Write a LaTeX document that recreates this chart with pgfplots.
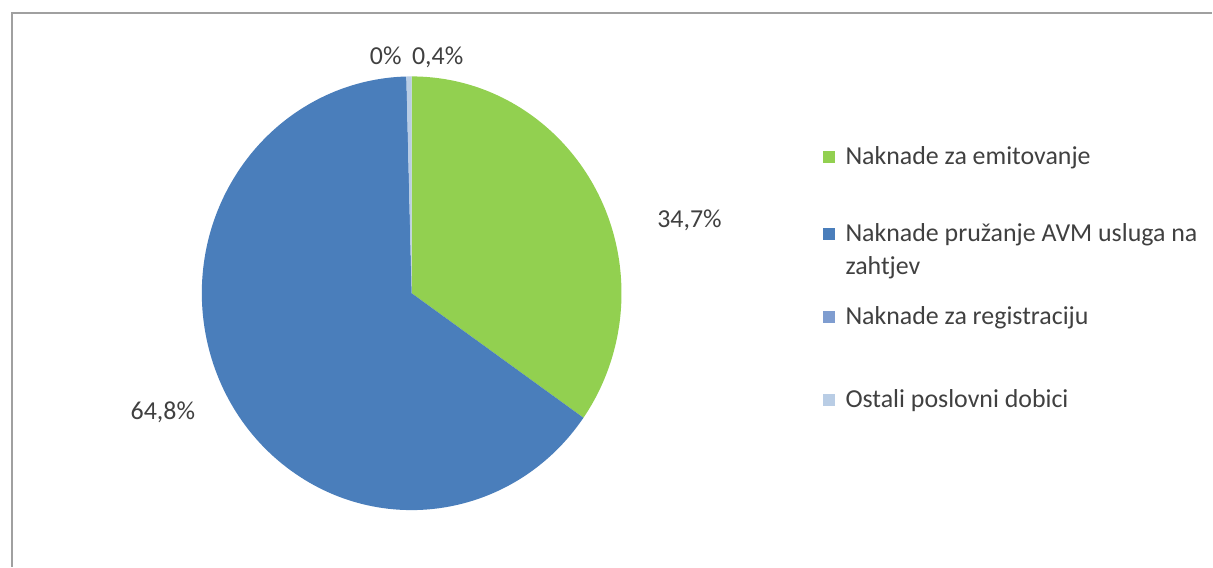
\documentclass[border=0pt]{standalone}
\usepackage{pgfplots}
\pgfplotsset{compat=1.18}
\usepackage{pgfplotstable}
\usepackage{fontspec}
\setmainfont{Carlito}

\definecolor{cGreen}{HTML}{92D050}
\definecolor{cBlue}{HTML}{4A7EBB}
\definecolor{cReg}{HTML}{7F9DD0}
\definecolor{cOther}{HTML}{B9CDE5}
\definecolor{txt}{HTML}{404040}
\definecolor{frame}{HTML}{A0A0A0}

% shares in percent, clockwise from 12 o'clock
\pgfplotstableread{
share
34.7
64.8
0
0.4
}\piedata

\pgfplotstablegetelem{0}{share}\of\piedata \let\sA\pgfplotsretval
\pgfplotstablegetelem{1}{share}\of\piedata \let\sB\pgfplotsretval
\pgfplotstablegetelem{2}{share}\of\piedata \let\sC\pgfplotsretval
\pgfplotstablegetelem{3}{share}\of\piedata \let\sD\pgfplotsretval
\pgfmathsetmacro\total{\sA+\sB+\sC+\sD}
\pgfmathsetmacro\aA{90-360*(\sA/\total)}
\pgfmathsetmacro\aB{\aA-360*(\sB/\total)}
\pgfmathsetmacro\aC{\aB-360*(\sC/\total)}
\pgfmathsetmacro\aD{\aC-360*(\sD/\total)}

\newcommand\pieslice[3]{% colour, from, to
  \fill[#1] (axis cs:412,273.5) -- ++(#2:210bp and 217bp)
    arc[start angle=#2, end angle=#3, x radius=210bp, y radius=217bp] -- cycle;}

\begin{document}
\begin{tikzpicture}[every node/.style={text=txt, font=\fontsize{26}{30}\selectfont, inner sep=0pt}]
\begin{axis}[
    scale only axis,
    width=1213bp, height=567bp,
    xmin=0, xmax=1213, ymin=0, ymax=567,
    hide axis, clip=false,
]
\path (axis cs:0,0) rectangle (axis cs:1213,567);
\draw[frame, line width=2bp] (axis cs:12,0) -- (axis cs:12,554) -- (axis cs:1213,554);

\pieslice{cGreen}{90}{\aA}
\pieslice{cBlue}{\aA}{\aB}
\pieslice{cReg}{\aB}{\aC}
\pieslice{cOther}{\aC}{\aD}

% slice labels
\node[anchor=base] at (axis cs:386,502) {0\%};
\node[anchor=base] at (axis cs:438,502) {0,4\%};
\node[anchor=base] at (axis cs:690,339) {34,7\%};
\node[anchor=base] at (axis cs:163,147) {64,8\%};

% legend
\fill[cGreen] (axis cs:824,404) rectangle (axis cs:836,416);
\node[anchor=base west] at (axis cs:846,402) {Naknade za emitovanje};
\fill[cBlue] (axis cs:824,327) rectangle (axis cs:836,339);
\node[anchor=base west] at (axis cs:846,325) {Naknade pružanje AVM usluga na};
\node[anchor=base west] at (axis cs:846,292) {zahtjev};
\fill[cReg] (axis cs:824,244) rectangle (axis cs:836,256);
\node[anchor=base west] at (axis cs:846,242) {Naknade za registraciju};
\fill[cOther] (axis cs:824,161) rectangle (axis cs:836,173);
\node[anchor=base west] at (axis cs:846,159) {Ostali poslovni dobici};
\end{axis}
\end{tikzpicture}
\end{document}
